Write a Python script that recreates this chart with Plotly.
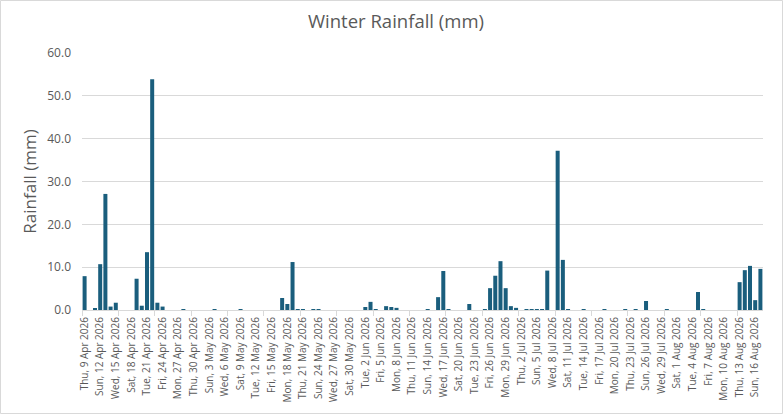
import pandas as pd
import plotly.graph_objects as go

start_date = "2026-04-09"
rain_mm = [
    7.9, 0, 0.3, 10.7, 27.1, 0.8, 1.7, 0, 0, 0,
    7.3, 1.0, 13.5, 53.9, 1.7, 0.8, 0, 0, 0, 0.2,
    0, 0, 0, 0, 0, 0.2, 0, 0, 0, 0,
    0.2, 0, 0, 0, 0, 0, 0, 0, 2.8, 1.4,
    11.2, 0.2, 0.2, 0, 0.2, 0.2, 0, 0, 0, 0,
    0, 0, 0, 0, 0.7, 1.9, 0.2, 0, 0.9, 0.7,
    0.5, 0, 0, 0, 0, 0, 0.2, 0, 3.0, 9.1,
    0.2, 0, 0, 0, 1.4, 0, 0, 0.2, 5.1, 8.0,
    11.4, 5.1, 0.9, 0.5, 0, 0.2, 0.2, 0.2, 0.2, 9.2,
    0, 37.2, 11.7, 0.2, 0, 0, 0.2, 0, 0, 0,
    0.2, 0, 0, 0, 0.2, 0, 0.2, 0, 2.1, 0,
    0, 0, 0.2, 0, 0, 0, 0, 0, 4.2, 0.2,
    0, 0, 0, 0, 0, 0, 6.5, 9.3, 10.3, 2.3,
    9.6,
]
dates = pd.date_range(start_date, periods=len(rain_mm), freq="D")
label_dates = dates[::3]
y_ticks = [0, 10, 20, 30, 40, 50, 60]

TEXT = "#595959"
GRID = "#D9D9D9"
FONT = "Open Sans, Lato, sans-serif"

fig = go.Figure(
    go.Bar(x=dates, y=rain_mm, marker=dict(color="#1A5E7D", line=dict(width=0)))
)

x0 = dates[0] - pd.Timedelta(hours=12)
x1 = dates[-1] + pd.Timedelta(hours=12)

fig.update_layout(
    width=783,
    height=414,
    margin=dict(l=82, r=20, t=53, b=104, autoexpand=False),
    paper_bgcolor="white",
    plot_bgcolor="white",
    bargap=0.23,
    showlegend=False,
    font=dict(family=FONT, color=TEXT),
    title=dict(
        text="Winter Rainfall (mm)",
        x=396 / 783,
        xref="container",
        xanchor="center",
        y=1 - 22 / 414,
        yref="container",
        yanchor="middle",
        font=dict(size=18.5, color=TEXT, family=FONT),
    ),
    xaxis=dict(
        type="date",
        range=[x0, x1],
        tickvals=label_dates,
        tickformat="%a, %-d %b %Y",
        tickangle=-90,
        ticks="",
        ticklabelstandoff=2,
        automargin=False,
        tickfont=dict(size=10, color=TEXT, family=FONT),
        showgrid=False,
        showline=True,
        linecolor=GRID,
        linewidth=1,
        zeroline=False,
        minor=dict(
            ticks="outside",
            tick0=x0,
            dtick=7 * 86400000,
            ticklen=5,
            tickcolor=GRID,
            tickwidth=1,
            showgrid=False,
        ),
    ),
    yaxis=dict(
        range=[0, 60],
        tickvals=y_ticks,
        tickformat=".1f",
        automargin=False,
        tickfont=dict(size=12, color=TEXT, family=FONT),
        showgrid=True,
        gridcolor=GRID,
        gridwidth=1,
        zeroline=False,
        showline=False,
        ticks="",
        ticklabelstandoff=10,
        title=dict(text="Rainfall (mm)", font=dict(size=17, color=TEXT, family=FONT), standoff=6),
    ),
)

fig.add_shape(
    type="rect",
    xref="paper",
    yref="paper",
    x0=(0.5 - 82) / 681,
    x1=(782.5 - 82) / 681,
    y0=(310 - 413.5) / 257,
    y1=(310 - 0.5) / 257,
    line=dict(color=GRID, width=1),
    fillcolor="rgba(0,0,0,0)",
    layer="below",
)

fig.write_html(
    "out.html",
    config={"displayModeBar": False},
    post_script="document.body.style.margin='0px';document.body.style.overflow='hidden';",
)
